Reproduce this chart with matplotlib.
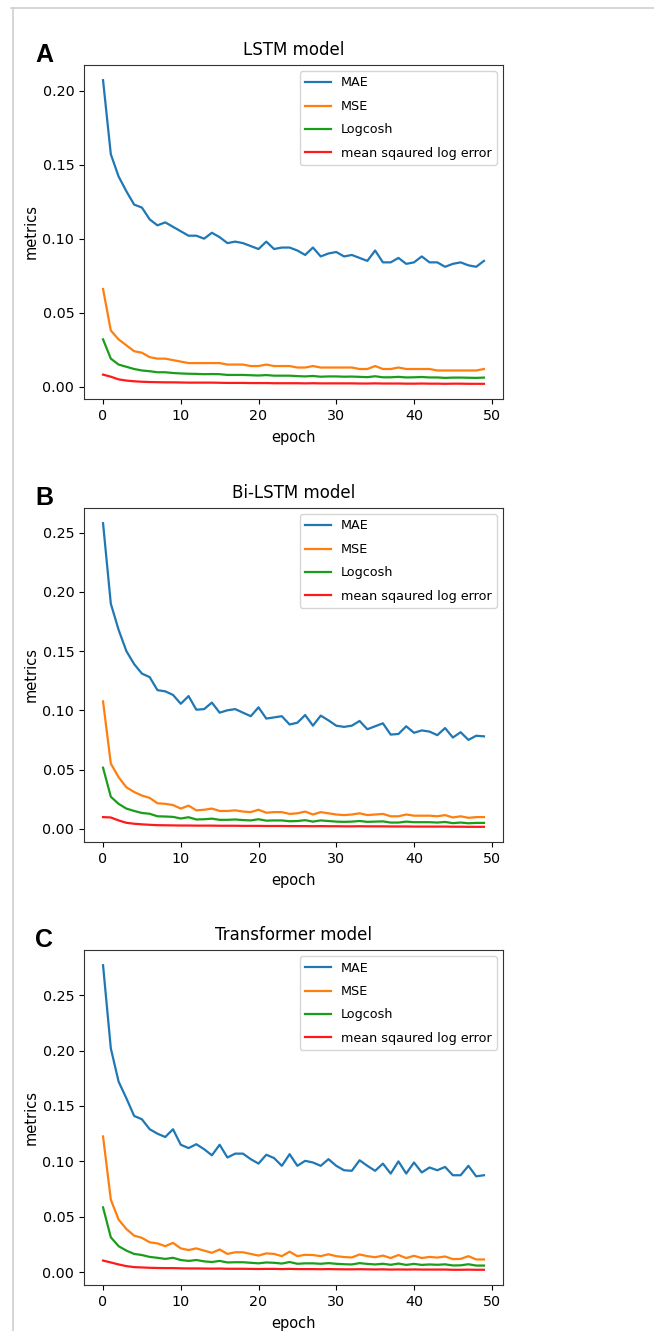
import matplotlib
matplotlib.use("Agg")
import matplotlib.pyplot as plt
from matplotlib.lines import Line2D

# epochs 0..49
epochs = list(range(50))
labels = ["MAE", "MSE", "Logcosh", "mean sqaured log error"]
colors = ["#1f77b4", "#ff7f0e", "#1a9e1a", "#ff1a1a"]

# LSTM model
lstm_mae = [0.207, 0.157, 0.142, 0.132, 0.123, 0.121, 0.113, 0.109, 0.111, 0.108,
            0.105, 0.102, 0.102, 0.100, 0.104, 0.101, 0.097, 0.098, 0.097, 0.095,
            0.093, 0.098, 0.093, 0.094, 0.094, 0.092, 0.089, 0.094, 0.088, 0.090,
            0.091, 0.088, 0.089, 0.087, 0.085, 0.092, 0.084, 0.084, 0.087, 0.083,
            0.084, 0.088, 0.084, 0.084, 0.081, 0.083, 0.084, 0.082, 0.081, 0.085]
lstm_mse = [0.066, 0.038, 0.032, 0.028, 0.024, 0.023, 0.020, 0.019, 0.019, 0.018,
            0.017, 0.016, 0.016, 0.016, 0.016, 0.016, 0.015, 0.015, 0.015, 0.014,
            0.014, 0.015, 0.014, 0.014, 0.014, 0.013, 0.013, 0.014, 0.013, 0.013,
            0.013, 0.013, 0.013, 0.012, 0.012, 0.014, 0.012, 0.012, 0.013, 0.012,
            0.012, 0.012, 0.012, 0.011, 0.011, 0.011, 0.011, 0.011, 0.011, 0.012]
lstm_logcosh = [0.032, 0.019, 0.015, 0.0135, 0.012, 0.011, 0.0105, 0.0098, 0.0098, 0.0093,
                0.009, 0.0088, 0.0087, 0.0085, 0.0086, 0.0085, 0.008, 0.008, 0.008, 0.0078,
                0.0076, 0.0079, 0.0075, 0.0075, 0.0075, 0.0072, 0.007, 0.0073, 0.0068, 0.007,
                0.007, 0.0068, 0.0069, 0.0067, 0.0065, 0.0071, 0.0064, 0.0064, 0.0067, 0.0063,
                0.0064, 0.0066, 0.0063, 0.0063, 0.006, 0.0062, 0.0062, 0.0061, 0.006, 0.0062]
lstm_msle = [0.0082, 0.0068, 0.005, 0.0042, 0.0037, 0.0034, 0.0032, 0.0031, 0.003, 0.003,
             0.0029, 0.0028, 0.0028, 0.0028, 0.0028, 0.0027, 0.0026, 0.0026, 0.0026, 0.0025,
             0.0025, 0.0025, 0.0024, 0.0024, 0.0024, 0.0024, 0.0023, 0.0024, 0.0023, 0.0023,
             0.0023, 0.0023, 0.0023, 0.0022, 0.0022, 0.0023, 0.0022, 0.0022, 0.0022, 0.0021,
             0.0021, 0.0022, 0.0021, 0.0021, 0.002, 0.0021, 0.0021, 0.002, 0.002, 0.002]

# Bi-LSTM model
bilstm_mae = [0.258, 0.190, 0.168, 0.150, 0.139, 0.131, 0.128, 0.117, 0.116, 0.113,
              0.1055, 0.112, 0.1005, 0.101, 0.1065, 0.098, 0.100, 0.101, 0.098, 0.095,
              0.1025, 0.093, 0.094, 0.095, 0.088, 0.0895, 0.096, 0.087, 0.0955, 0.0915,
              0.087, 0.086, 0.087, 0.091, 0.084, 0.0865, 0.089, 0.0795, 0.080, 0.0865,
              0.081, 0.083, 0.082, 0.079, 0.085, 0.077, 0.0815, 0.075, 0.0785, 0.078]
bilstm_mse = [0.1075, 0.055, 0.0435, 0.035, 0.031, 0.028, 0.026, 0.0215, 0.021, 0.020,
              0.017, 0.0195, 0.0155, 0.016, 0.017, 0.015, 0.015, 0.0155, 0.0145, 0.014,
              0.016, 0.0135, 0.014, 0.014, 0.0125, 0.013, 0.0145, 0.012, 0.014, 0.013,
              0.012, 0.0115, 0.012, 0.013, 0.0115, 0.012, 0.0125, 0.0105, 0.0105, 0.012,
              0.011, 0.011, 0.011, 0.0105, 0.0115, 0.0095, 0.0105, 0.0092, 0.0098, 0.0098]
bilstm_logcosh = [0.0515, 0.027, 0.021, 0.017, 0.015, 0.0133, 0.0126, 0.0105, 0.0103, 0.010,
                  0.0086, 0.0097, 0.0078, 0.008, 0.0085, 0.0075, 0.0075, 0.0078, 0.0073, 0.007,
                  0.008, 0.0068, 0.007, 0.007, 0.0063, 0.0065, 0.0072, 0.006, 0.007, 0.0065,
                  0.006, 0.0058, 0.006, 0.0065, 0.0058, 0.006, 0.0062, 0.0052, 0.0052, 0.006,
                  0.0055, 0.0055, 0.0055, 0.0052, 0.0057, 0.0047, 0.0052, 0.0046, 0.0049, 0.0049]
bilstm_msle = [0.0098, 0.0095, 0.007, 0.005, 0.0042, 0.0037, 0.0033, 0.003, 0.0029, 0.0028,
               0.0027, 0.0027, 0.0026, 0.0026, 0.0026, 0.0025, 0.0025, 0.0025, 0.0024, 0.0024,
               0.0024, 0.0023, 0.0023, 0.0023, 0.0022, 0.0022, 0.0022, 0.0021, 0.0022, 0.0021,
               0.0021, 0.002, 0.002, 0.0021, 0.002, 0.002, 0.002, 0.0019, 0.0019, 0.0019,
               0.0018, 0.0018, 0.0018, 0.0018, 0.0018, 0.0017, 0.0017, 0.0016, 0.0016, 0.0016]

# Transformer model
trans_mae = [0.277, 0.202, 0.172, 0.157, 0.141, 0.138, 0.129, 0.125, 0.122, 0.129,
             0.115, 0.112, 0.1155, 0.111, 0.1055, 0.115, 0.1035, 0.107, 0.107, 0.102,
             0.098, 0.106, 0.103, 0.096, 0.1065, 0.096, 0.1005, 0.099, 0.096, 0.102,
             0.096, 0.092, 0.0915, 0.101, 0.096, 0.0915, 0.098, 0.089, 0.1, 0.089,
             0.099, 0.090, 0.0945, 0.092, 0.095, 0.0875, 0.0875, 0.096, 0.0865, 0.0875]
trans_mse = [0.1225, 0.0655, 0.0475, 0.039, 0.033, 0.031, 0.027, 0.026, 0.0235, 0.0265,
             0.0215, 0.020, 0.0215, 0.0195, 0.0175, 0.0205, 0.0165, 0.018, 0.018, 0.0165,
             0.015, 0.017, 0.0165, 0.0145, 0.0185, 0.0145, 0.0157, 0.0155, 0.0145, 0.0162,
             0.0145, 0.0137, 0.0133, 0.016, 0.0145, 0.0135, 0.015, 0.0128, 0.0155, 0.0128,
             0.0148, 0.0128, 0.0138, 0.0132, 0.0142, 0.0118, 0.012, 0.0145, 0.0115, 0.0115]
trans_logcosh = [0.0585, 0.0315, 0.0235, 0.0195, 0.0165, 0.0155, 0.0138, 0.013, 0.012, 0.013,
                 0.011, 0.0102, 0.011, 0.0098, 0.0092, 0.0102, 0.0088, 0.009, 0.009, 0.0085,
                 0.008, 0.0088, 0.0085, 0.0078, 0.0092, 0.0076, 0.008, 0.008, 0.0076, 0.0082,
                 0.0076, 0.0072, 0.007, 0.0082, 0.0075, 0.007, 0.0076, 0.0067, 0.0078, 0.0066,
                 0.0075, 0.0066, 0.007, 0.0067, 0.0071, 0.0061, 0.0062, 0.0072, 0.006, 0.006]
trans_msle = [0.0105, 0.0088, 0.007, 0.0055, 0.0046, 0.0043, 0.004, 0.0038, 0.0037, 0.0037,
              0.0035, 0.0034, 0.0034, 0.0033, 0.0032, 0.0033, 0.0031, 0.0031, 0.0031, 0.003,
              0.0029, 0.003, 0.003, 0.0028, 0.003, 0.0028, 0.0028, 0.0028, 0.0027, 0.0028,
              0.0027, 0.0026, 0.0026, 0.0027, 0.0026, 0.0025, 0.0026, 0.0024, 0.0025, 0.0024,
              0.0025, 0.0024, 0.0024, 0.0024, 0.0024, 0.0022, 0.0022, 0.0023, 0.0022, 0.0022]

panels = [
    ("A", "LSTM model", [lstm_mae, lstm_mse, lstm_logcosh, lstm_msle]),
    ("B", "Bi-LSTM model", [bilstm_mae, bilstm_mse, bilstm_logcosh, bilstm_msle]),
    ("C", "Transformer model", [trans_mae, trans_mse, trans_logcosh, trans_msle]),
]

W, H = 654, 1331
fig = plt.figure(figsize=(W / 100, H / 100), dpi=100)

# light gray frame (top and left edges visible)
fig.add_artist(Line2D([11 / W, 1.0], [1 - 7.5 / H, 1 - 7.5 / H], color="#d0d0d0", lw=1.2))
fig.add_artist(Line2D([12.5 / W, 12.5 / W], [0, 1 - 7.5 / H], color="#d0d0d0", lw=1.2))

# axes boxes in pixels: (left, top, right, bottom)
boxes = [(84, 65, 503, 399), (84, 508, 503, 842), (84, 950, 503, 1285)]

for (letter, title, series), (l, t, r, b) in zip(panels, boxes):
    ax = fig.add_axes([l / W, 1 - b / H, (r - l) / W, (b - t) / H])
    for vals, lab, col in zip(series, labels, colors):
        ax.plot(epochs, vals, color=col, lw=1.6, label=lab)
    ax.set_title(title, fontsize=12, pad=7)
    ax.set_xlabel("epoch", fontsize=10.5, labelpad=5)
    ax.set_ylabel("metrics", fontsize=10.5, labelpad=3)
    ax.tick_params(labelsize=10.3)
    ax.set_xticks([0, 10, 20, 30, 40, 50])
    ax.legend(loc="upper right", fontsize=9.2, labelspacing=0.82, handlelength=2.0,
              borderaxespad=0.5)
    for sp in ax.spines.values():
        sp.set_color("#333333")
    fig.text(35 / W, 1 - (t - 10) / H, letter, fontsize=18, fontweight="bold",
             family="Liberation Sans", ha="left", va="center")

fig.savefig("out.png", dpi=100)
